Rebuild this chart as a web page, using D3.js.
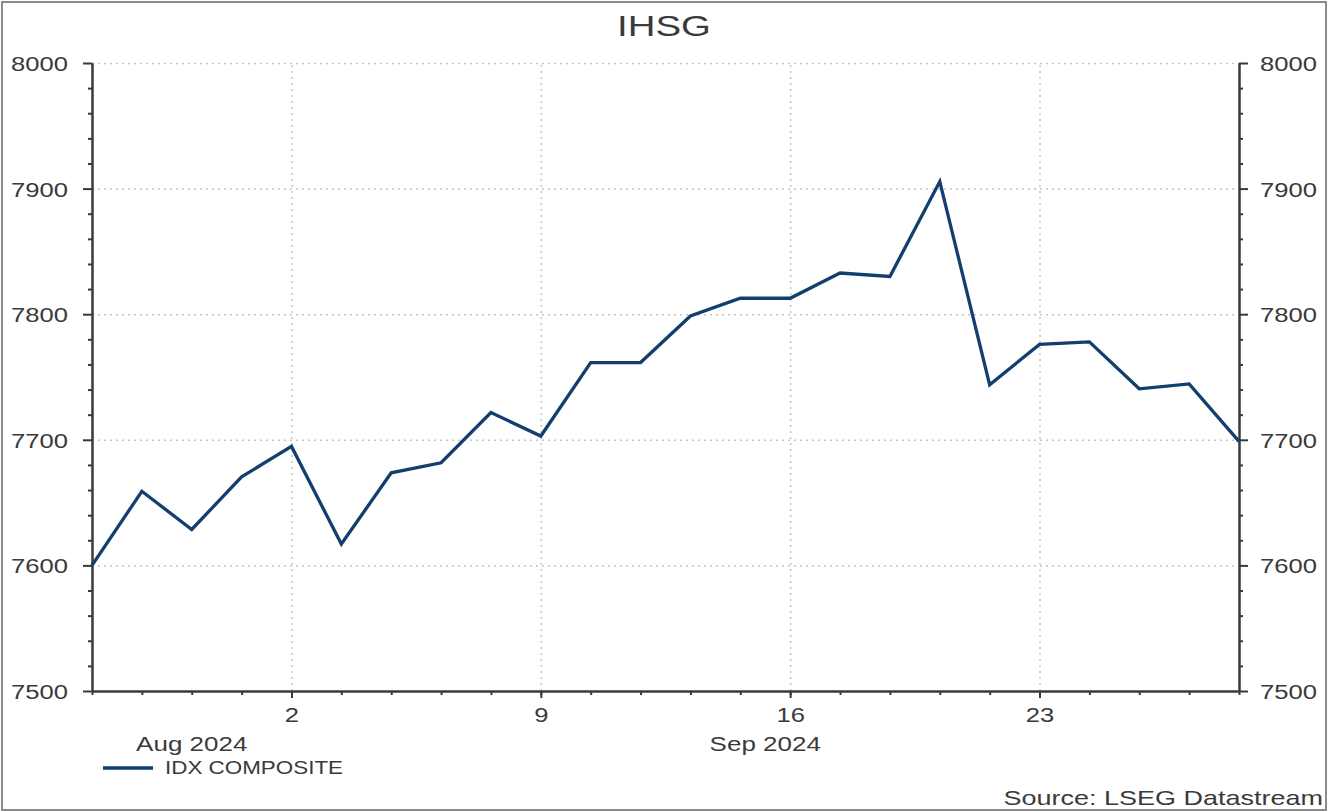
<!DOCTYPE html>
<html>
<head>
<meta charset="utf-8">
<script src="https://cdn.jsdelivr.net/npm/d3@7"></script>
<style>
  html, body { margin: 0; padding: 0; background: #fff; }
  svg { display: block; font-family: "Liberation Sans", Arial, sans-serif; }
</style>
</head>
<body>
<svg id="chart" width="1329" height="812"></svg>
<script>
const title = "IHSG";
const seriesName = "IDX COMPOSITE";
const source = "Source: LSEG Datastream";
const dates = [
  "2024-08-27","2024-08-28","2024-08-29","2024-08-30",
  "2024-09-02","2024-09-03","2024-09-04","2024-09-05","2024-09-06",
  "2024-09-09","2024-09-10","2024-09-11","2024-09-12","2024-09-13",
  "2024-09-16","2024-09-17","2024-09-18","2024-09-19","2024-09-20",
  "2024-09-23","2024-09-24","2024-09-25","2024-09-26","2024-09-27"
];
const values = [
  7600, 7659, 7628.6, 7670.5,
  7694.7, 7617, 7673.7, 7681.7, 7721.7,
  7703, 7761.5, 7761.5, 7798.6, 7812.7,
  7812.7, 7832.8, 7830, 7905.6, 7743.8,
  7776, 7778, 7740.6, 7744.5, 7698.7
];
const majorDates = ["2024-09-02","2024-09-09","2024-09-16","2024-09-23"];
const majorLabels = ["2","9","16","23"];
const monthLabels = ["Aug 2024","Sep 2024"];
const monthAnchors = [["2024-08-29","2024-08-29"],["2024-09-13","2024-09-16"]];
const yDomain = [7500, 8000];
const yMajor = [7500, 7600, 7700, 7800, 7900, 8000];
const yMinorStep = 20;

const svg = d3.select("#chart");
const W = 1329, H = 812;
const L = 92, R = 1239, T = 63, B = 691;
const textCol = "#3a3a3a";
const axisCol = "#3a3a3a";
const SX = 1.22;

// outer frame
svg.append("rect").attr("x", 2).attr("y", 2).attr("width", W - 5).attr("height", H - 4)
  .attr("fill", "none").attr("stroke", "#8a8a8a").attr("stroke-width", 2);

const x = d3.scalePoint().domain(dates).range([L, R]).padding(0);
const y = d3.scaleLinear().domain(yDomain).range([B, T]);
const yMinor = d3.range(yDomain[0], yDomain[1] + 0.001, yMinorStep).filter(v => !yMajor.includes(v));

// gridlines
svg.append("g").attr("transform", `translate(${L},0)`)
  .call(d3.axisLeft(y).tickValues(yMajor.filter(v => v > yDomain[0])).tickSize(-(R - L)).tickFormat(""))
  .call(g => g.select(".domain").remove())
  .call(g => g.selectAll("line").attr("stroke", "#c4c4c4").attr("stroke-width", 1.5).attr("stroke-dasharray", "2,4"));
svg.append("g").attr("transform", `translate(0,${B})`)
  .call(d3.axisBottom(x).tickValues(majorDates).tickSize(-(B - T)).tickFormat(""))
  .call(g => g.select(".domain").remove())
  .call(g => g.selectAll("line").attr("stroke", "#c4c4c4").attr("stroke-width", 1.5).attr("stroke-dasharray", "2,4"));

function styleAxis(g) {
  g.select(".domain").attr("stroke", axisCol).attr("stroke-width", 2);
  g.selectAll("line").attr("stroke", axisCol).attr("stroke-width", 2);
}

// left axis
svg.append("g").attr("transform", `translate(${L},0)`)
  .call(d3.axisLeft(y).tickValues(yMinor).tickSize(4).tickSizeOuter(0).tickFormat(""))
  .call(styleAxis);
const leftMajor = svg.append("g").attr("transform", `translate(${L},0)`)
  .call(d3.axisLeft(y).tickValues(yMajor).tickSize(9).tickSizeOuter(0).tickFormat(d3.format("d")))
  .call(styleAxis);
leftMajor.selectAll("text")
  .attr("x", 0).attr("dy", "0.36em")
  .attr("transform", `translate(-24,0) scale(${SX},1)`)
  .attr("fill", textCol).style("font-size", "21px").attr("text-anchor", "end");

// right axis
svg.append("g").attr("transform", `translate(${R},0)`)
  .call(d3.axisRight(y).tickValues(yMinor).tickSize(4).tickSizeOuter(0).tickFormat(""))
  .call(styleAxis);
const rightMajor = svg.append("g").attr("transform", `translate(${R},0)`)
  .call(d3.axisRight(y).tickValues(yMajor).tickSize(9).tickSizeOuter(0).tickFormat(d3.format("d")))
  .call(styleAxis);
rightMajor.selectAll("text")
  .attr("x", 0).attr("dy", "0.36em")
  .attr("transform", `translate(21,0) scale(${SX},1)`)
  .attr("fill", textCol).style("font-size", "21px").attr("text-anchor", "start");

// bottom axis
svg.append("g").attr("transform", `translate(0,${B})`)
  .call(d3.axisBottom(x).tickValues(dates).tickSize(4).tickSizeOuter(0).tickFormat(""))
  .call(styleAxis);
const bottomMajor = svg.append("g").attr("transform", `translate(0,${B})`)
  .call(d3.axisBottom(x).tickValues(majorDates).tickSize(7).tickSizeOuter(0)
    .tickFormat((d, i) => majorLabels[i]))
  .call(styleAxis);
bottomMajor.selectAll("text")
  .attr("y", 0).attr("dy", 0)
  .attr("transform", `translate(0,31) scale(${SX},1)`)
  .attr("fill", textCol).style("font-size", "21px").attr("text-anchor", "middle");

// month labels
svg.append("g").selectAll("text").data(monthLabels).join("text")
  .attr("transform", (d, i) => {
    const cx = (x(monthAnchors[i][0]) + x(monthAnchors[i][1])) / 2;
    return `translate(${cx},751) scale(1.3,1)`;
  })
  .attr("text-anchor", "middle").attr("fill", textCol).style("font-size", "20px")
  .text(d => d);

// line
const line = d3.line().x((d, i) => x(dates[i])).y(d => y(d));
svg.append("path").datum(values)
  .attr("d", line).attr("fill", "none")
  .attr("stroke", "#123f6e").attr("stroke-width", 3.3).attr("stroke-linejoin", "miter");

// title
svg.append("text").attr("transform", `translate(664,36) scale(1.28,1)`)
  .attr("text-anchor", "middle").attr("fill", "#3a3a3a").style("font-size", "30px").text(title);

// legend
svg.append("line").attr("x1", 103).attr("x2", 153).attr("y1", 768).attr("y2", 768)
  .attr("stroke", "#123f6e").attr("stroke-width", 3.3);
svg.append("text").attr("transform", `translate(165,774) scale(1.18,1)`)
  .attr("fill", textCol).style("font-size", "19px").text(seriesName);

// source
svg.append("text").attr("transform", `translate(1323,805) scale(1.35,1)`)
  .attr("text-anchor", "end").attr("fill", textCol).style("font-size", "20px").text(source);
</script>
</body>
</html>
